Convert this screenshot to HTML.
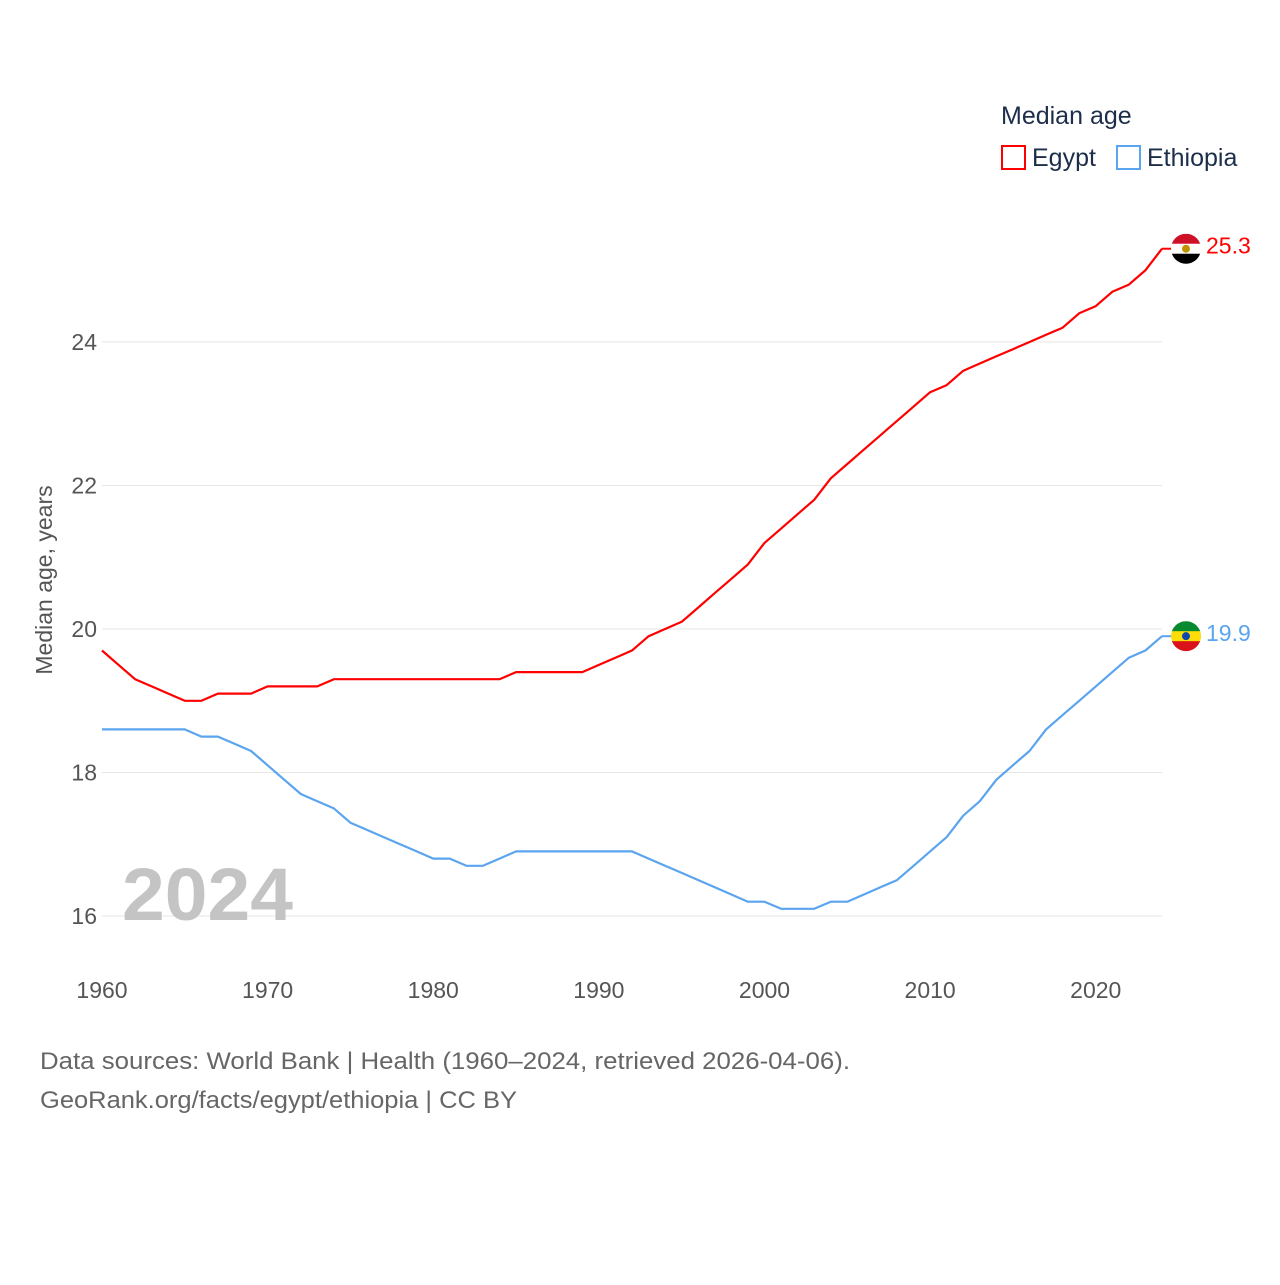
<!DOCTYPE html>
<html><head><meta charset="utf-8"><style>
body{margin:0;background:#fff;}
svg text{font-family:"Liberation Sans",sans-serif;}
</style></head><body>
<svg id="chart" width="1280" height="1280" viewBox="0 0 1280 1280">
<g id="grid"></g>
<g id="yticks"></g>
<g id="xticks"></g>
<text x="52" y="580" transform="rotate(-90 52 580)" text-anchor="middle" font-size="23" fill="#555">Median age, years</text>
<text x="122" y="920" font-size="74" font-weight="bold" fill="#c4c4c4" textLength="171" lengthAdjust="spacingAndGlyphs">2024</text>
<g id="series"></g>
<g>
<text x="1001" y="124" font-size="25" fill="#1c2e4a">Median age</text>
<rect x="1002" y="146" width="23" height="23" fill="none" stroke="#ff0000" stroke-width="2"/>
<text x="1032" y="166" font-size="25" fill="#1c2e4a">Egypt</text>
<rect x="1117" y="146" width="23" height="23" fill="none" stroke="#5ba4ef" stroke-width="2"/>
<text x="1147" y="166" font-size="25" fill="#1c2e4a">Ethiopia</text>
</g>
<text x="40" y="1069" font-size="24" fill="#666" textLength="810" lengthAdjust="spacingAndGlyphs">Data sources: World Bank | Health (1960–2024, retrieved 2026-04-06).</text>
<text x="40" y="1108" font-size="24" fill="#666" textLength="477" lengthAdjust="spacingAndGlyphs">GeoRank.org/facts/egypt/ethiopia | CC BY</text>
</svg>
<script>
const years = [];
for (let y = 1960; y <= 2024; y++) years.push(y);
const egypt = [19.7,19.5,19.3,19.2,19.1,19.0,19.0,19.1,19.1,19.1,19.2,19.2,19.2,19.2,19.3,19.3,19.3,19.3,19.3,19.3,19.3,19.3,19.3,19.3,19.3,19.4,19.4,19.4,19.4,19.4,19.5,19.6,19.7,19.9,20.0,20.1,20.3,20.5,20.7,20.9,21.2,21.4,21.6,21.8,22.1,22.3,22.5,22.7,22.9,23.1,23.3,23.4,23.6,23.7,23.8,23.9,24.0,24.1,24.2,24.4,24.5,24.7,24.8,25.0,25.3];
const ethiopia = [18.6,18.6,18.6,18.6,18.6,18.6,18.5,18.5,18.4,18.3,18.1,17.9,17.7,17.6,17.5,17.3,17.2,17.1,17.0,16.9,16.8,16.8,16.7,16.7,16.8,16.9,16.9,16.9,16.9,16.9,16.9,16.9,16.9,16.8,16.7,16.6,16.5,16.4,16.3,16.2,16.2,16.1,16.1,16.1,16.2,16.2,16.3,16.4,16.5,16.7,16.9,17.1,17.4,17.6,17.9,18.1,18.3,18.6,18.8,19.0,19.2,19.4,19.6,19.7,19.9];
const yTicks = [16,18,20,22,24];
const xTicks = [1960,1970,1980,1990,2000,2010,2020];

const NS = "http://www.w3.org/2000/svg";
const x = v => 102 + (v - 1960) * (1162 - 102) / 64;
const y = v => 916 - (v - 16) * (916 - 342) / 8;
function mk(tag, attrs, parent) {
  const e = document.createElementNS(NS, tag);
  for (const k in attrs) e.setAttribute(k, attrs[k]);
  parent.appendChild(e); return e;
}
const grid = document.getElementById('grid'), yt = document.getElementById('yticks'), xt = document.getElementById('xticks'), ser = document.getElementById('series');
yTicks.forEach(t => {
  const l = mk('line', {x1: 102, x2: 1162, y1: y(t), y2: y(t), stroke: '#e6e6e6', 'stroke-width': 1}, grid);
  
  
  const tx = mk('text', {x: 97, y: y(t) + 8, 'text-anchor': 'end', 'font-size': 23, fill: '#555'}, yt);
  tx.textContent = t;
  
  
});
xTicks.forEach(t => {
  const tx = mk('text', {x: x(t), y: 998, 'text-anchor': 'middle', 'font-size': 23, fill: '#555'}, xt);
  tx.textContent = t;
  
  
});
function drawSeries(vals, color, name, flagColors) {
  const d = vals.map((v, i) => (i ? 'L' : 'M') + x(years[i]).toFixed(1) + ',' + y(v).toFixed(1)).join('');
  const p = mk('path', {d: d, fill: 'none', stroke: color, 'stroke-width': 2.2, 'stroke-linejoin': 'round'}, ser);
  
  
  const last = vals[vals.length - 1], ly = y(last), lx = x(years[years.length - 1]);
  const c = mk('line', {x1: lx, x2: lx + 12, y1: ly, y2: ly, stroke: color, 'stroke-width': 2}, ser);
  
  
  const g = mk('g', {}, ser);
  
  
  const cx = 1186, r = 15;
  const clip = mk('clipPath', {id: 'clip-' + name}, g);
  mk('circle', {cx: cx, cy: ly, r: r}, clip);
  flagColors.forEach((fc, i) => {
    mk('rect', {x: cx - r, y: ly - r + i * 2 * r / 3, width: 2 * r, height: 2 * r / 3 + 0.5, fill: fc, 'clip-path': 'url(#clip-' + name + ')'}, g);
  });
  mk('circle', {cx: cx, cy: ly, r: 4, fill: name === 'egypt' ? '#c09300' : '#0f47af'}, g);
  const t = mk('text', {x: 1206, y: ly + 5, 'font-size': 23, fill: color}, ser);
  t.textContent = last.toFixed(1);
  
  
}
drawSeries(egypt, '#ff0000', 'egypt', ['#ce1126', '#ffffff', '#000000']);
drawSeries(ethiopia, '#5ba4ef', 'ethiopia', ['#078930', '#fcdd09', '#da121a']);
</script>
</body></html>
